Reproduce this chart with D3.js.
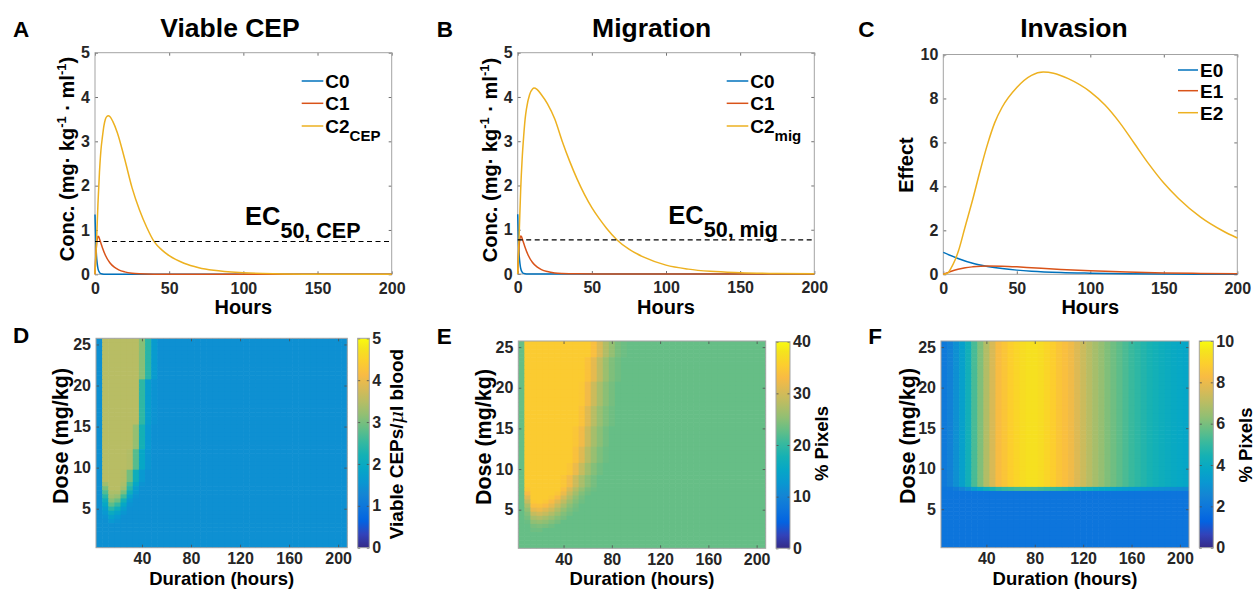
<!DOCTYPE html>
<html><head><meta charset="utf-8">
<script src="https://cdn.jsdelivr.net/npm/d3@7"></script>
<style>
body{margin:0;background:#fff;}
</style></head><body>
<svg id="chart" width="1254" height="589" xmlns="http://www.w3.org/2000/svg"></svg>
<script>
// ---------------- DATA ----------------
const hourTicks = [0, 50, 100, 150, 200];
const concTicks = [0, 1, 2, 3, 4, 5];
const effectTicks = [0, 2, 4, 6, 8, 10];
const durationTicks = [40, 80, 120, 160, 200];
const doseTicks = [5, 10, 15, 20, 25];
const cepBarTicks = [0, 1, 2, 3, 4, 5];
const migBarTicks = [0, 10, 20, 30, 40];
const invBarTicks = [0, 2, 4, 6, 8, 10];

// Panels A & B: concentrations vs hours
const tC0 = [0, 0.5, 1, 1.5, 2, 3, 4, 6, 10, 200];
const vC0 = [1.35, 0.75, 0.42, 0.24, 0.13, 0.045, 0.015, 0.002, 0, 0];
const tC1 = [0, 0.5, 1, 1.5, 2, 2.5, 3, 4, 5, 7, 10, 13, 16, 20, 25, 30, 40, 60, 200];
const vC1 = [0, 0.4, 0.65, 0.8, 0.86, 0.85, 0.8, 0.7, 0.6, 0.43, 0.26, 0.16, 0.1, 0.055, 0.025, 0.012, 0.003, 0, 0];
const tC2cep = [0, 1, 2, 3, 4, 5, 6, 7, 8, 9, 10, 12, 15, 20, 25, 30, 35, 40, 45, 50, 60, 70, 80, 100, 120, 150, 200];
const vC2cep = [0, 0.7, 1.6, 2.3, 2.8, 3.1, 3.35, 3.5, 3.56, 3.58, 3.56, 3.45, 3.2, 2.6, 1.95, 1.45, 1.05, 0.73, 0.55, 0.42, 0.25, 0.15, 0.09, 0.035, 0.013, 0.003, 0];
const tC2mig = [0, 1, 2, 3, 4, 5, 6, 8, 10, 11, 13, 16, 20, 25, 30, 35, 40, 45, 50, 55, 60, 67, 75, 85, 100, 115, 130, 150, 175, 200];
const vC2mig = [0, 0.9, 1.9, 2.6, 3.1, 3.5, 3.75, 4.05, 4.18, 4.2, 4.17, 4.05, 3.85, 3.5, 3.0, 2.55, 2.15, 1.8, 1.5, 1.25, 1.03, 0.77, 0.56, 0.38, 0.2, 0.11, 0.06, 0.03, 0.012, 0.005];
const ec50Cep = 0.74;
const ec50Mig = 0.77;

// Panel C: effects vs hours
const tE0 = [0, 10, 20, 30, 40, 50, 60, 80, 100, 125, 150, 175, 200];
const vE0 = [1.0, 0.72, 0.5, 0.36, 0.26, 0.19, 0.14, 0.08, 0.05, 0.025, 0.012, 0.006, 0.003];
const tE1 = [0, 5, 10, 15, 20, 30, 40, 50, 60, 80, 100, 125, 150, 175, 200];
const vE1 = [0, 0.13, 0.23, 0.3, 0.34, 0.38, 0.37, 0.34, 0.3, 0.22, 0.16, 0.1, 0.06, 0.04, 0.025];
const tE2 = [0, 3, 5, 8, 10, 15, 20, 25, 30, 35, 40, 50, 60, 68, 75, 85, 100, 110, 120, 130, 140, 150, 160, 175, 190, 200];
const vE2 = [0, 0.05, 0.25, 0.65, 1.0, 2.2, 3.4, 4.7, 5.9, 6.9, 7.6, 8.5, 9.05, 9.2, 9.15, 8.9, 8.3, 7.7, 6.9, 5.95, 5.0, 4.15, 3.45, 2.6, 1.98, 1.65];

// Heat-map grids: durations (columns) and doses (rows)
const durations = [5,10,15,20,25,30,35,40,45,50,55,60,65,70,75,80,85,90,95,100,105,110,115,120,125,130,135,140,145,150,155,160,165,170,175,180,185,190,195,200,205];
const doses = [25.5,25,24.5,24,23.5,23,22.5,22,21.5,21,20.5,20,19.5,19,18.5,18,17.5,17,16.5,16,15.5,15,14.5,14,13.5,13,12.5,12,11.5,11,10.5,10,9.5,9,8.5,8,7.5,7,6.5,6,5.5,5,4.5,4,3.5,3,2.5,2,1.5,1,0.5];

// Panel D: viable CEPs; dose bands [high, low] with values for the first columns, rest = background
const cepBackground = 1.45;
const cepBands = [[25.5,21],[20.5,15.5],[15,12.5],[12,10],[9.5,8.5],[8,8],[7.5,7.5],[7,7],[6.5,6.5],[6,6],[5.5,5.5],[5,5],[4.5,4.5],[4,4],[3.5,3.5]];
const cepProfiles = [
  [1.45,3.5,3.5,3.5,3.5,3.5,3.5,3.1,2.4,1.65],
  [1.45,3.5,3.5,3.5,3.5,3.5,3.5,2.45,1.7,1.5],
  [1.45,3.5,3.5,3.5,3.5,3.5,3.2,2.2,1.6],
  [1.45,3.5,3.5,3.5,3.5,3.45,2.75,1.9,1.55],
  [1.45,3.5,3.5,3.5,3.45,2.95,2.1,1.6],
  [1.45,3.3,3.5,3.5,3.4,2.6,1.9,1.5],
  [1.45,3.0,3.5,3.5,3.3,2.4,1.7],
  [1.45,2.7,3.4,3.4,3.0,2.1,1.6],
  [1.45,2.4,3.3,3.2,2.6,1.8,1.5],
  [1.45,2.1,3.1,2.9,2.2,1.6],
  [1.45,1.9,2.8,2.5,1.9,1.5],
  [1.45,1.7,2.4,2.1,1.7],
  [1.45,1.6,2.0,1.8,1.55],
  [1.45,1.5,1.75,1.6],
  [1.45,1.45,1.6,1.5]
];

// Panel E: migration % pixels
const migBackground = 22.9;
const migBands = [[25.5,24],[23.5,21],[20.5,18],[17.5,15.5],[15,13],[12.5,11],[10.5,9.5],[9,8],[7.5,7.5],[7,7],[6.5,6.5],[6,6],[5.5,5.5],[5,5],[4.5,4.5],[4,4],[3.5,3.5],[3,3],[2.5,2.5]];
const migProfiles = [
  [22.9,35.2,35.2,35.2,35.2,35.2,35.2,35.2,35.2,35.2,35.2,35.2,33.5,30.5,27.5,25.5,24,23.3],
  [22.9,35.2,35.2,35.2,35.2,35.2,35.2,35.2,35.2,35.2,35.2,34,31.5,28.5,26,24.3,23.5],
  [22.9,35.2,35.2,35.2,35.2,35.2,35.2,35.2,35.2,35.2,34.8,32.5,29.5,27,25,23.8],
  [22.9,35.2,35.2,35.2,35.2,35.2,35.2,35.2,35.2,35.2,34,31,28,25.8,24.3,23.4],
  [22.9,35.2,35.2,35.2,35.2,35.2,35.2,35.2,35.2,34.5,32.5,29.5,26.8,25,23.7],
  [22.9,35.2,35.2,35.2,35.2,35.2,35.2,35.2,35.2,33.8,31,28,25.8,24.2,23.3],
  [22.9,35.2,35.2,35.2,35.2,35.2,35.2,35.2,34.5,32,29,26.5,24.6,23.5],
  [22.9,35.2,35.2,35.2,35.2,35.2,35.2,34.5,32.5,29.5,27,25,23.8],
  [22.9,34.5,35.2,35.2,35.2,35.2,35.2,33.5,30.5,27.8,25.5,24,23.3],
  [22.9,33,35.2,35.2,35.2,35.2,34.5,32,29,26.5,24.5,23.5],
  [22.9,31,35.2,35.2,35.2,34.6,33,30,27.5,25.3,23.8],
  [22.9,29,34.8,35,34.5,33,31,28.5,26.2,24.5,23.4],
  [22.9,27,33.5,33.8,33,31.5,29.2,27,25,23.8],
  [22.9,25.5,31.5,32,31,29.5,27.5,25.5,24.2,23.4],
  [22.9,24.5,29,29.8,29,27.5,26,24.5,23.6],
  [22.9,23.8,27,27.5,26.8,25.8,24.6,23.8],
  [22.9,23.2,25.3,25.7,25.2,24.5,23.8],
  [22.9,22.9,24,24.2,24,23.5],
  [22.9,22.9,23.4,23.5]
];

// Panel F: invasion % pixels; rows >= threshold use invasionProfile, the edge row uses invasionEdge
const invasionLow = 1.9;
const invasionThresholdDose = 8;
const invasionEdgeDose = 7.5;
const invasionProfile = [2.1,2.4,2.9,3.5,4.3,5.3,6.1,6.9,7.6,8.3,8.6,8.9,9.1,9.3,9.4,9.4,9.3,9.1,8.9,8.6,8.4,8.1,7.7,7.35,7.0,6.7,6.4,6.1,5.85,5.6,5.35,5.1,4.9,4.7,4.5,4.35,4.2,4.05,3.95,3.85,3.75];
const invasionEdge = [1.95,2.0,2.2,2.5,2.9,3.4,3.8,4.2,4.5,4.8,5.0,5.1,5.2,5.3,5.3,5.3,5.2,5.1,5.0,4.9,4.8,4.6,4.5,4.3,4.2,4.0,3.9,3.8,3.7,3.5,3.4,3.3,3.2,3.1,3.0,2.95,2.9,2.85,2.8,2.75,2.7];

// ---------------- STYLE ----------------
const FONT = '"Liberation Sans", Arial, Helvetica, sans-serif';
const TXT = '#262626';
const BOX = '#a3a3a3';
const blue = '#0072BD', red = '#D95319', yellow = '#EDB120';
const parulaStops = [[0.2081,0.1663,0.5292],[0.1959,0.2645,0.7279],[0.0117,0.3875,0.8820],[0.0498,0.4586,0.8641],[0.0793,0.5200,0.8312],[0.0343,0.5966,0.8199],[0.0228,0.6535,0.7768],[0.0843,0.6928,0.7062],[0.2178,0.7250,0.6193],[0.3953,0.7459,0.5244],[0.5709,0.7485,0.4494],[0.7184,0.7411,0.3905],[0.8507,0.7299,0.3360],[0.9739,0.7314,0.2666],[0.9880,0.8066,0.1794],[0.9589,0.8949,0.1132],[0.9763,0.9831,0.0538]];
const parulaIdx = [0,4,8,12,16,20,24,28,32,36,40,44,48,52,56,60,63];
const parulaCols = parulaStops.map(c => d3.rgb(c[0]*255, c[1]*255, c[2]*255).formatHex());
const parula = d3.scaleLinear().domain(parulaIdx.map(i => i/63)).range(parulaCols).clamp(true);
const fmt = d3.format('d');

const svg = d3.select('#chart');
svg.append('rect').attr('width',1254).attr('height',589).attr('fill','#fff');
const defs = svg.append('defs');

function styleAxis(sel, fs) {
  sel.attr('font-family', FONT).attr('font-size', fs || 16).attr('font-weight', 'bold');
  sel.select('.domain').remove();
  sel.selectAll('.tick line').attr('stroke', '#4d4d4d').attr('stroke-width', 0.8);
  sel.selectAll('.tick text').attr('fill', TXT);
}
function frame(g, x0, y0, x1, y1, xs, ys, xt, yt, padX, padY) {
  const b = g.append('g').attr('transform', `translate(0,${y1})`).call(d3.axisBottom(xs).tickValues(xt).tickFormat(fmt).tickSize(-3).tickPadding(padX));
  styleAxis(b);
  const t = g.append('g').attr('transform', `translate(0,${y0})`).call(d3.axisTop(xs).tickValues(xt).tickSize(-3).tickFormat(''));
  styleAxis(t);
  const l = g.append('g').attr('transform', `translate(${x0},0)`).call(d3.axisLeft(ys).tickValues(yt).tickFormat(fmt).tickSize(-3).tickPadding(padY));
  styleAxis(l);
  const r = g.append('g').attr('transform', `translate(${x1},0)`).call(d3.axisRight(ys).tickValues(yt).tickSize(-3).tickFormat(''));
  styleAxis(r);
  g.append('rect').attr('x', x0).attr('y', y0).attr('width', x1 - x0).attr('height', y1 - y0)
    .attr('fill', 'none').attr('stroke', BOX).attr('stroke-width', 1);
}
function txt(x, y, s, size, opts) {
  opts = opts || {};
  const t = svg.append('text').attr('x', x).attr('y', y).attr('font-family', FONT)
    .attr('font-weight', 'bold').attr('font-size', size).attr('fill', opts.fill || '#000')
    .attr('text-anchor', opts.anchor || 'start');
  if (opts.rotate) t.attr('transform', `rotate(-90,${x},${y})`);
  if (s !== null) t.text(s);
  return t;
}

// ---------------- TOP LINE PANELS ----------------
function linePanel(c) {
  const g = svg.append('g');
  const x = d3.scaleLinear().domain([0, 200]).range([c.x0, c.x1]);
  const y = d3.scaleLinear().domain([0, c.ymax]).range([c.y1, c.y0]);
  frame(g, c.x0, c.y0, c.x1, c.y1, x, y, hourTicks, c.yTicks, 8, 5);
  const line = d3.line().x(d => x(d[0])).y(d => y(d[1])).curve(d3.curveMonotoneX);
  c.series.forEach(s => {
    g.append('path').datum(s.t.map((t, i) => [t, s.v[i]])).attr('d', line)
      .attr('fill', 'none').attr('stroke', s.color).attr('stroke-width', 1.5);
  });
  if (c.ec != null) {
    g.append('line').attr('x1', x(0)).attr('x2', x(200)).attr('y1', y(c.ec)).attr('y2', y(c.ec))
      .attr('stroke', '#000').attr('stroke-width', 1.2).attr('stroke-dasharray', '5,3.5');
    const e = txt(c.ecX, c.ecY, null, 25.5);
    e.append('tspan').text('EC');
    e.append('tspan').attr('font-size', 21.5).attr('dy', 13).text(c.ecSub);
  }
  // legend
  c.series.forEach((s, i) => {
    const ly = c.legY[i];
    g.append('line').attr('x1', c.legX0).attr('x2', c.legX1).attr('y1', ly).attr('y2', ly)
      .attr('stroke', s.color).attr('stroke-width', 1.5);
    const t = txt(c.legX1 + 2, ly + 6.8, null, 19);
    t.append('tspan').text(s.name);
    if (s.sub) t.append('tspan').attr('font-size', 15).attr('dy', 8).text(s.sub);
  });
  txt((c.x0 + c.x1) / 2, 313.5, 'Hours', 20, { anchor: 'middle' });
  txt(c.titleX, 36.7, c.title, 26.5, { anchor: 'middle' });
  txt(c.letterX, 36.7, c.letter, 22.5);
}

function concLabel(x, yc) {
  const t = txt(x, yc, null, 20, { anchor: 'middle', rotate: true });
  t.append('tspan').text('Conc. (mg\u00B7 kg');
  t.append('tspan').attr('font-size', 13).attr('dy', -8).text('-1');
  t.append('tspan').attr('font-size', 20).attr('dy', 8).text(' \u00B7 ml');
  t.append('tspan').attr('font-size', 13).attr('dy', -8).text('-1');
  t.append('tspan').attr('font-size', 20).attr('dy', 8).text(')');
}

linePanel({
  letter: 'A', letterX: 13, title: 'Viable CEP', titleX: 230,
  x0: 95, x1: 391.7, y0: 52.7, y1: 274.3, ymax: 5, yTicks: concTicks,
  series: [
    { name: 'C0', t: tC0, v: vC0, color: blue },
    { name: 'C1', t: tC1, v: vC1, color: red },
    { name: 'C2', sub: 'CEP', t: tC2cep, v: vC2cep, color: yellow }
  ],
  ec: ec50Cep, ecX: 245, ecY: 225, ecSub: '50, CEP',
  legX0: 301.7, legX1: 323.3, legY: [81, 103.3, 126]
});
concLabel(74, 159);

linePanel({
  letter: 'B', letterX: 436.7, title: 'Migration', titleX: 651.7,
  x0: 517.7, x1: 814.3, y0: 52.7, y1: 274, ymax: 5, yTicks: concTicks,
  series: [
    { name: 'C0', t: tC0, v: vC0, color: blue },
    { name: 'C1', t: tC1, v: vC1, color: red },
    { name: 'C2', sub: 'mig', t: tC2mig, v: vC2mig, color: yellow }
  ],
  ec: ec50Mig, ecX: 668.3, ecY: 223.5, ecSub: '50, mig',
  legX0: 726.7, legX1: 748.3, legY: [81, 103.3, 126]
});
concLabel(496.7, 160);

linePanel({
  letter: 'C', letterX: 858.3, title: 'Invasion', titleX: 1074,
  x0: 943.3, x1: 1237.3, y0: 54.5, y1: 274.3, ymax: 10, yTicks: effectTicks,
  series: [
    { name: 'E0', t: tE0, v: vE0, color: blue },
    { name: 'E1', t: tE1, v: vE1, color: red },
    { name: 'E2', t: tE2, v: vE2, color: yellow }
  ],
  ec: null,
  legX0: 1178, legX1: 1198, legY: [70, 90.7, 112.7]
});
txt(913, 165, 'Effect', 20, { anchor: 'middle', rotate: true });

// ---------------- BOTTOM HEAT PANELS ----------------
function heatPanel(c) {
  const g = svg.append('g');
  const x = d3.scaleLinear().domain([2.5, 207.5]).range([c.x0, c.x1]);
  const y = d3.scaleLinear().domain([0.25, 25.75]).range([c.y1, c.y0]);
  const cells = [];
  doses.forEach(dose => {
    const vals = c.rowValues(dose);
    durations.forEach((d, j) => {
      cells.push({ d, dose, v: j < vals.length ? vals[j] : c.bg });
    });
  });
  g.append('g').selectAll('rect').data(cells).join('rect')
    .attr('x', d => x(d.d - 2.5)).attr('y', d => y(d.dose + 0.25))
    .attr('width', d => Math.min(x(d.d + 2.5) + 0.6, c.x1) - x(d.d - 2.5))
    .attr('height', d => Math.min(y(d.dose - 0.25) + 0.6, c.y1) - y(d.dose + 0.25))
    .attr('fill', d => parula(d.v / c.cmax));
  frame(g, c.x0, c.y0, c.x1, c.y1, x, y, durationTicks, doseTicks, 5, 5);
  // colorbar
  const gid = 'grad' + c.letter;
  const gr = defs.append('linearGradient').attr('id', gid).attr('x1', 0).attr('y1', 1).attr('x2', 0).attr('y2', 0);
  parulaIdx.forEach((idx, i) => gr.append('stop').attr('offset', idx / 63).attr('stop-color', parulaCols[i]));
  const cy = d3.scaleLinear().domain([0, c.cmax]).range([c.cb.y1, c.cb.y0]);
  g.append('rect').attr('x', c.cb.x0).attr('y', c.cb.y0).attr('width', c.cb.x1 - c.cb.x0).attr('height', c.cb.y1 - c.cb.y0)
    .attr('fill', `url(#${gid})`);
  const ca = g.append('g').attr('transform', `translate(${c.cb.x1},0)`).call(d3.axisRight(cy).tickValues(c.cbTicks).tickFormat(fmt).tickSize(-2.5).tickPadding(3));
  styleAxis(ca);
  const cl = g.append('g').attr('transform', `translate(${c.cb.x0},0)`).call(d3.axisLeft(cy).tickValues(c.cbTicks).tickSize(-2.5).tickFormat(''));
  styleAxis(cl);
  g.append('rect').attr('x', c.cb.x0).attr('y', c.cb.y0).attr('width', c.cb.x1 - c.cb.x0).attr('height', c.cb.y1 - c.cb.y0)
    .attr('fill', 'none').attr('stroke', BOX);
  txt((c.x0 + c.x1) / 2, 584.5, 'Duration (hours)', 18.5, { anchor: 'middle' });
  txt(c.doseLabelX, c.doseLabelY, 'Dose (mg/kg)', 21.5, { anchor: 'middle', rotate: true });
  txt(c.letterX, c.letterY, c.letter, 22.5);
}

function bandLookup(bands, profiles) {
  return dose => {
    for (let i = 0; i < bands.length; i++) {
      if (dose <= bands[i][0] + 1e-9 && dose >= bands[i][1] - 1e-9) return profiles[i];
    }
    return [];
  };
}

heatPanel({
  letter: 'D', letterX: 13, letterY: 343.3,
  x0: 96, x1: 347.3, y0: 338.3, y1: 547.7, cmax: 5, bg: cepBackground,
  rowValues: bandLookup(cepBands, cepProfiles),
  cb: { x0: 357.7, x1: 369.3, y0: 338.3, y1: 547.7 }, cbTicks: cepBarTicks,
  doseLabelX: 68, doseLabelY: 436
});
{
  const t = txt(403, 444, null, 19, { anchor: 'middle', rotate: true });
  t.append('tspan').text('Viable CEPs/');
  t.append('tspan').attr('font-style', 'italic').attr('font-weight', 'normal').attr('font-family', '"DejaVu Serif", serif').text('\u03BC');
  t.append('tspan').text('l blood');
}

heatPanel({
  letter: 'E', letterX: 436.7, letterY: 344,
  x0: 518.3, x1: 765.7, y0: 341, y1: 548.3, cmax: 40, bg: migBackground,
  rowValues: bandLookup(migBands, migProfiles),
  cb: { x0: 776, x1: 790, y0: 341.7, y1: 548.3 }, cbTicks: migBarTicks,
  doseLabelX: 491, doseLabelY: 437
});
txt(828, 443.5, '% Pixels', 18.5, { anchor: 'middle', rotate: true });

heatPanel({
  letter: 'F', letterX: 868.3, letterY: 344,
  x0: 941, x1: 1189, y0: 341, y1: 547.7, cmax: 10, bg: invasionLow,
  rowValues: dose => dose >= invasionThresholdDose ? invasionProfile : (Math.abs(dose - invasionEdgeDose) < 1e-9 ? invasionEdge : []),
  cb: { x0: 1199.3, x1: 1213.3, y0: 341, y1: 547.7 }, cbTicks: invBarTicks,
  doseLabelX: 914.5, doseLabelY: 436
});
txt(1251.5, 445, '% Pixels', 18.5, { anchor: 'middle', rotate: true });
</script>
</body></html>
